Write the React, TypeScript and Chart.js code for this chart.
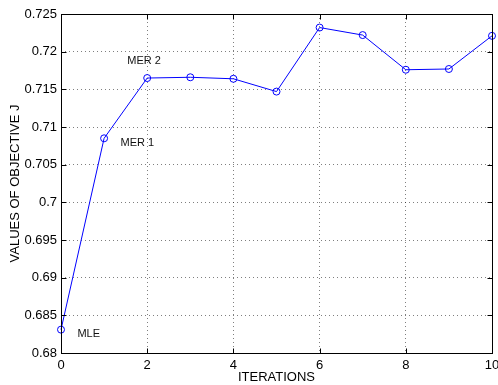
import React, { useEffect, useRef } from "react";
import { Chart, registerables } from "chart.js";

Chart.register(...registerables);

const iterations = [0, 1, 2, 3, 4, 5, 6, 7, 8, 9, 10];
const objectiveJ = [0.6831, 0.7085, 0.7165, 0.7166, 0.7164, 0.7147, 0.7232, 0.7222, 0.7176, 0.7177, 0.7221];
const xTicks = [0, 2, 4, 6, 8, 10];
const yTicks = [0.68, 0.685, 0.69, 0.695, 0.7, 0.705, 0.71, 0.715, 0.72, 0.725];
const yTickLabels = ["0.68", "0.685", "0.69", "0.695", "0.7", "0.705", "0.71", "0.715", "0.72", "0.725"];
const noteLabels = ["MER 2", "MER 1", "MLE"];
const noteX = [1.54, 1.38, 0.38];
const noteY = [0.7188, 0.7079, 0.6825];

const FONT = "'Liberation Sans', Arial, Helvetica, sans-serif";

const boxPlugin = {
  id: "boxPlugin",
  afterDraw(chart: any) {
    const { ctx, chartArea: a, scales } = chart;
    const xs = scales.x;
    const ys = scales.y;
    ctx.save();
    ctx.strokeStyle = "#000";
    ctx.lineWidth = 1;
    ctx.setLineDash([]);
    const L = Math.round(a.left) + 0.5;
    const R = Math.round(a.right) + 0.5;
    const T = Math.round(a.top) + 0.5;
    const B = Math.round(a.bottom) + 0.5;
    ctx.strokeRect(L, T, R - L, B - T);
    const tl = 5;
    ctx.beginPath();
    xTicks.forEach((v) => {
      const px = Math.round(xs.getPixelForValue(v)) + 0.5;
      ctx.moveTo(px, B);
      ctx.lineTo(px, B - tl);
      ctx.moveTo(px, T);
      ctx.lineTo(px, T + tl);
    });
    yTicks.forEach((v) => {
      const py = Math.round(ys.getPixelForValue(v)) + 0.5;
      ctx.moveTo(L, py);
      ctx.lineTo(L + tl, py);
      ctx.moveTo(R, py);
      ctx.lineTo(R - tl, py);
    });
    ctx.stroke();
    ctx.fillStyle = "#111";
    ctx.font = `11px ${FONT}`;
    ctx.textAlign = "left";
    ctx.textBaseline = "middle";
    noteLabels.forEach((t, i) => {
      ctx.fillText(t, xs.getPixelForValue(noteX[i]), ys.getPixelForValue(noteY[i]));
    });
    ctx.restore();
  },
};

export default function App() {
  const ref = useRef<HTMLCanvasElement | null>(null);
  useEffect(() => {
    if (!ref.current) return;
    const chart = new Chart(ref.current, {
      type: "line",
      data: {
        datasets: [
          {
            data: iterations.map((x, i) => ({ x, y: objectiveJ[i] })),
            borderColor: "#0000ff",
            borderWidth: 1,
            pointStyle: "circle",
            pointRadius: 3.5,
            pointBorderColor: "#0000ff",
            pointBackgroundColor: "rgba(0,0,0,0)",
            pointBorderWidth: 1,
            tension: 0,
            fill: false,
            clip: false as any,
          },
        ],
      },
      options: {
        animation: false,
        responsive: true,
        maintainAspectRatio: false,
        layout: { padding: { left: 0, right: 6, top: 14, bottom: 0 }, autoPadding: false },
        plugins: { legend: { display: false }, tooltip: { enabled: false } },
        scales: {
          x: {
            type: "linear",
            min: 0,
            max: 10,
            afterBuildTicks: (s: any) => {
              s.ticks = xTicks.map((v) => ({ value: v }));
            },
            afterFit: (s: any) => {
              s.height = 32;
              s.paddingLeft = 0;
              s.paddingRight = 0;
            },
            ticks: {
              color: "#000",
              font: { family: FONT, size: 13 },
              padding: 5,
              maxRotation: 0,
              autoSkip: false,
              callback: (v: any) => String(v),
            },
            grid: {
              drawTicks: false,
              color: (c: any) => (c.tick && (c.tick.value === 0 || c.tick.value === 10) ? "rgba(0,0,0,0)" : "rgba(0,0,0,0.5)"),
              lineWidth: 1,
            },
            border: { display: false, dash: [1, 3] },
            title: {
              display: true,
              text: "ITERATIONS",
              color: "#000",
              font: { family: FONT, size: 13 },
              padding: { top: 0, bottom: 0 },
            },
          },
          y: {
            type: "linear",
            min: 0.68,
            max: 0.725,
            afterBuildTicks: (s: any) => {
              s.ticks = yTicks.map((v) => ({ value: v }));
            },
            afterFit: (s: any) => {
              s.width = 61;
              s.paddingTop = 0;
              s.paddingBottom = 0;
            },
            ticks: {
              color: "#000",
              font: { family: FONT, size: 13 },
              padding: 4,
              autoSkip: false,
              callback: (v: any) => {
                const i = yTicks.findIndex((t) => Math.abs(t - v) < 1e-9);
                return i >= 0 ? yTickLabels[i] : "";
              },
            },
            grid: {
              drawTicks: false,
              color: (c: any) =>
                c.tick && (Math.abs(c.tick.value - 0.68) < 1e-9 || Math.abs(c.tick.value - 0.725) < 1e-9)
                  ? "rgba(0,0,0,0)"
                  : "rgba(0,0,0,0.5)",
              lineWidth: 1,
            },
            border: { display: false, dash: [1, 3] },
            title: {
              display: true,
              text: "VALUES OF OBJECTIVE J",
              color: "#000",
              font: { family: FONT, size: 13 },
              padding: { top: 8, bottom: 0 },
            },
          },
        },
      },
      plugins: [boxPlugin],
    });
    return () => chart.destroy();
  }, []);
  return (
    <div style={{ position: "fixed", left: 0, top: 0, width: 498, height: 385, background: "#fff" }}>
      <canvas ref={ref} />
    </div>
  );
}
